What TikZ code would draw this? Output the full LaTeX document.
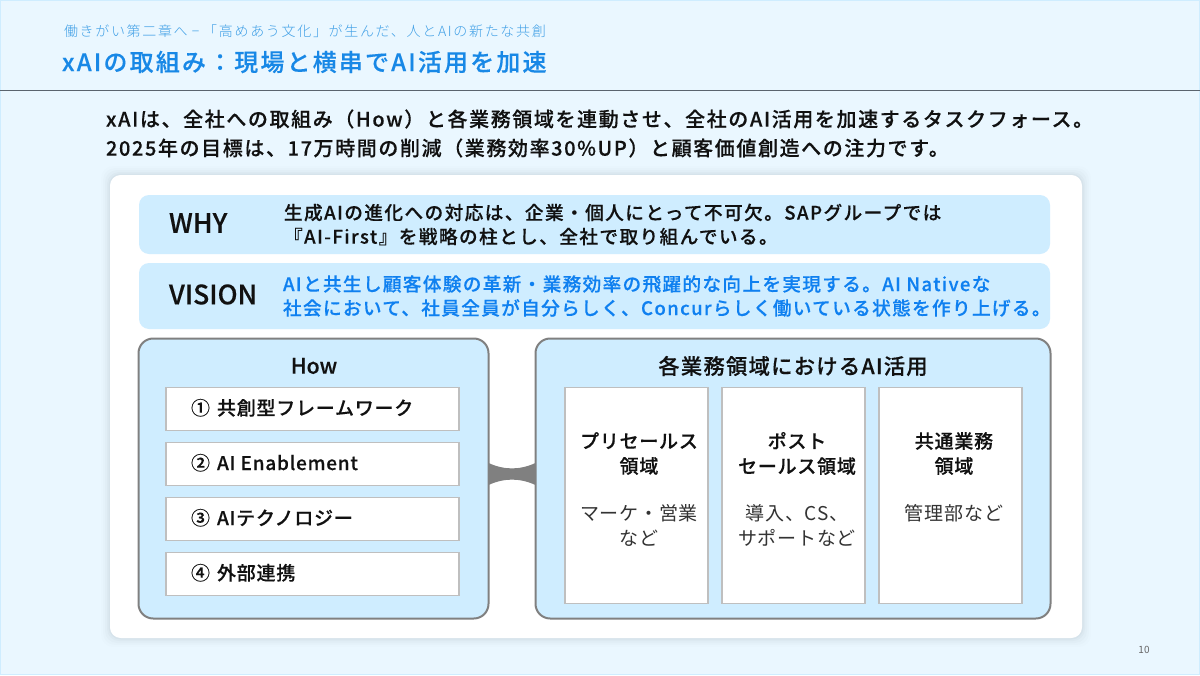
\documentclass[tikz,border=0pt]{standalone}
\usepackage{fontspec}
\usetikzlibrary{calc}
\setmainfont{Noto Sans CJK JP}[BoldFont={Noto Sans CJK JP Medium},BoldFeatures={FakeBold=0.25}]
\newfontfamily\jpls{Noto Sans CJK JP}[LetterSpace=4,BoldFont={Noto Sans CJK JP Medium},BoldFeatures={FakeBold=0.25}]
\newfontfamily\jpla{Noto Sans CJK JP}[LetterSpace=5.8,BoldFont={Noto Sans CJK JP Medium},BoldFeatures={FakeBold=0.25}]
\newfontfamily\jplb{Noto Sans CJK JP}[LetterSpace=8,BoldFont={Noto Sans CJK JP Medium},BoldFeatures={FakeBold=0.25}]
\newfontfamily\jplv{Noto Sans CJK JP}[LetterSpace=7.5,BoldFont={Noto Sans CJK JP Medium},BoldFeatures={FakeBold=0.25}]
\newfontfamily\jplw{Noto Sans CJK JP}[LetterSpace=7,BoldFont={Noto Sans CJK JP Medium},BoldFeatures={FakeBold=0.25}]
\newfontfamily\jplt{Noto Sans CJK JP}[LetterSpace=9,BoldFont={Noto Sans CJK JP Medium},BoldFeatures={FakeBold=0.25}]
\newfontfamily\jplu{Noto Sans CJK JP}[LetterSpace=12,BoldFont={Noto Sans CJK JP Light}]
\definecolor{pagebg}{HTML}{EAF7FF}
\definecolor{band}{HTML}{CFEDFF}
\definecolor{blueT}{HTML}{1888E6}
\definecolor{blueV}{HTML}{0F80F0}
\definecolor{subT}{HTML}{3F9FE6}
\definecolor{inkT}{HTML}{111111}
\definecolor{inkB}{HTML}{333333}
\definecolor{rimG}{HTML}{808080}
\definecolor{boxG}{HTML}{BFBFBF}
\definecolor{ruleG}{HTML}{5A646E}
\tikzset{
 x=0.75pt,y=-0.75pt,
 txt/.style={inner sep=0pt,outer sep=0pt,anchor=west,text=inkT,align=left},
 ctr/.style={inner sep=0pt,outer sep=0pt,anchor=center,text=inkT,align=center},
 bandbox/.style={fill=band,rounded corners=7.5pt},
 rimbox/.style={fill=band,draw=rimG,line width=1.5pt,rounded corners=11pt},
 itembox/.style={fill=white,draw=boxG,line width=0.9pt},
}
\newcommand{\fsz}[2]{\fontsize{#1}{#2}\selectfont}
\begin{document}
\begin{tikzpicture}
\useasboundingbox (0,0) rectangle (1200,675);
\fill[pagebg] (0,0) rectangle (1200,675);
\draw[draw=band,line width=1pt] (0.5,0.5) rectangle (1199.5,674.5);
\draw[draw=ruleG,line width=0.8pt] (0,90.5) -- (1200,90.5);
% header
\node[txt,text=subT,font=\fsz{10.5}{12}\jplu\bfseries] (sub) at (64,31) {働きがい第二章へ\hspace{3pt}−\hspace{3pt}「高めあう文化」が生んだ、人とAIの新たな共創};
\node[txt,text=blueT,font=\fsz{18}{22}\jplt\bfseries] (title) at (62,62) {xAIの取組み：現場と横串でAI活用を加速};
\node[txt,font=\fsz{15}{20}\jplb\bfseries] (lead1) at (106,119) {xAIは、全社への取組み（How）と各業務領域を連動させ、全社のAI活用を加速するタスクフォース。};
\node[txt,font=\fsz{15}{20}\jplb\bfseries] (lead2) at (106,148) {2025年の目標は、17万時間の削減（業務効率30\%UP）と顧客価値創造への注力です。};
% card shadow
\foreach \g/\o in {9/0.008,7/0.012,5/0.016,3/0.02,1.5/0.025}{
 \fill[black,opacity=\o,rounded corners=9pt] (110-\g,175-\g) rectangle (1082+\g,638+\g);
}
\node[fill=white,rounded corners=8pt,minimum width=729pt,minimum height=347.25pt,inner sep=0pt,outer sep=0pt,anchor=north west] (card) at (110,175) {};
% bands
\fill[bandbox] (139,195) rectangle (1050,254);
\fill[bandbox] (139,263) rectangle (1050,329);
\node[txt,font=\fsz{20}{23}\bfseries] (why) at (169,223) {WHY};
\node[txt,font=\fsz{14}{18}\jplv\bfseries] (whyt) at (284,224.5) {生成AIの進化への対応は、企業・個人にとって不可欠。SAPグループでは\\『AI-First』を戦略の柱とし、全社で取り組んでいる。};
\node[txt,font=\fsz{20}{23}\bfseries] (vis) at (169,294.5) {VISION};
\node[txt,text=blueV,font=\fsz{14}{18}\jplw\bfseries] (vist) at (283,296) {AIと共生し顧客体験の革新・業務効率の飛躍的な向上を実現する。AI Nativeな\\社会において、社員全員が自分らしく、Concurらしく働いている状態を作り上げる。};
% rim boxes
\node[rimbox,minimum width=262.5pt,minimum height=210pt,inner sep=0pt,outer sep=0pt,anchor=north west] (how) at (138.5,338.5) {};
\node[rimbox,minimum width=386.25pt,minimum height=210pt,inner sep=0pt,outer sep=0pt,anchor=north west] (areas) at (535.5,338.5) {};
% connector
\fill[rimG] ($(how.east)+(0,-15.5)$) .. controls ($(how.east)+(16,-8.3)$) and ($(areas.west)+(-16,-8.3)$) .. ($(areas.west)+(0,-15.5)$)
 -- ($(areas.west)+(0,6.5)$) .. controls ($(areas.west)+(-16,-0.7)$) and ($(how.east)+(16,-0.7)$) .. ($(how.east)+(0,6.5)$) -- cycle;
\node[ctr,font=\fsz{16}{20}\bfseries] (howt) at (314,366) {How};
\node[ctr,font=\fsz{16}{20}\jpla\bfseries] (areat) at (793,366) {各業務領域におけるAI活用};
% How items
\foreach \n/\y/\t in {a/388/①\hspace{1.5pt} 共創型フレームワーク,b/443/②\hspace{1.5pt} AI Enablement,c/498/③\hspace{1.5pt} AIテクノロジー,d/553/④\hspace{1.5pt} 外部連携}{
 \node[itembox,minimum width=219.75pt,minimum height=32.25pt,inner sep=0pt,outer sep=0pt,anchor=north west] (it\n) at (166,\y-0.5) {};
 \node[txt,font=\fsz{14.25}{18}\jpls\bfseries] (itt\n) at (191,\y+19.8) {\t};
}
% Area columns
\foreach \n/\x in {p/565,q/722,r/879}{
 \node[itembox,minimum width=107.25pt,minimum height=162pt,inner sep=0pt,outer sep=0pt,anchor=north west] (col\n) at (\x,387.5) {};
}
\node[ctr,font=\fsz{14.25}{18.75}\jpls\bfseries] (ph) at (639,453.5) {プリセールス\\領域};
\node[ctr,text=inkB,font=\fsz{14.25}{18.75}\jpls] (pb) at (639,525.5) {マーケ・営業\\など};
\node[ctr,font=\fsz{14.25}{18.75}\jpls\bfseries] (qh) at (797,453.5) {ポスト\\セールス領域};
\node[ctr,text=inkB,font=\fsz{14.25}{18.75}\jpls] (qb) at (797,525.5) {導入、CS、\\サポートなど};
\node[ctr,font=\fsz{14.25}{18.75}\jpls\bfseries] (rh) at (954,453.5) {共通業務\\領域};
\node[ctr,text=inkB,font=\fsz{14.25}{18.75}\jpls] (rb) at (954,513) {管理部など};
\node[ctr,text=black!60,font=\fsz{7.5}{9}] (pg) at (1144,650) {10};
\end{tikzpicture}
\end{document}
